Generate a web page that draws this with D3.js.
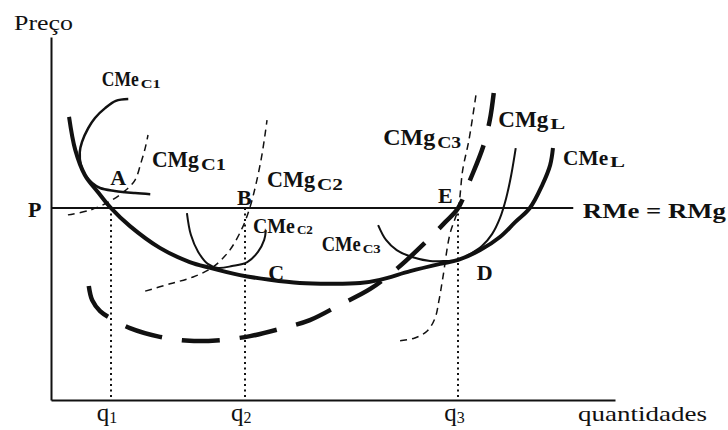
<!DOCTYPE html>
<html>
<head>
<meta charset="utf-8">
<script src="https://cdn.jsdelivr.net/npm/d3@7"></script>
<style>
  body { margin: 0; background: #fff; }
  svg { display: block; }
  text { font-family: "Liberation Serif", "Times New Roman", serif; fill: #111; }
</style>
</head>
<body>
<svg id="chart" width="728" height="430"></svg>
<script>
// Market price (RMe = RMg) and the three plant outputs
const priceP = 52.9;
const qValues = [10.6, 34.4, 72.2];
const qSubs = ["1", "2", "3"];

// Long-run average cost (envelope)
const cmeLong = [[3.2,78.0],[4.3,68.9],[6.0,62.0],[8.3,57.3],[10.6,52.9],[14.0,47.9],[19.3,41.9],
  [24.6,38.0],[28.2,36.4],[33.5,34.4],[38.8,33.1],[44.1,32.2],[49.5,32.0],[54.8,32.2],[58.3,33.1],
  [63.7,35.5],[69.0,37.5],[72.2,38.6],[76.1,41.3],[79.6,44.9],[82.3,49.0],[84.9,52.9],[87.1,59.2],
  [88.5,64.7],[89.0,69.4]];

// Long-run marginal cost
const cmgLong = [[6.7,31.4],[7.3,27.5],[8.7,24.5],[10.5,22.6],[14.0,19.8],[19.3,17.4],[24.6,16.3],
  [30.0,16.5],[35.3,17.6],[40.6,19.6],[45.9,22.0],[51.2,26.2],[56.6,30.6],[61.5,36.4],[66.3,43.3],
  [69.9,49.0],[72.2,52.9],[74.3,60.6],[76.6,69.7],[77.8,77.1],[78.5,84.6]];

// Short-run average costs for plants 1, 2, 3
const cmeShort1 = [[13.7,82.9],[11.5,82.4],[9.6,80.4],[7.8,77.7],[6.6,74.9],[5.5,71.1],[5.1,68.3],
  [5.3,64.7],[6.0,62.0],[7.3,59.8],[8.7,58.4],[11.3,57.6],[14.9,57.0],[17.6,56.7]];
const cmeShort2 = [[24.1,51.5],[24.8,45.5],[26.1,40.8],[27.8,37.5],[29.6,36.4],[32.1,36.9],
  [34.8,38.0],[36.7,40.8],[37.8,44.1],[38.1,46.8]];
const cmeShort3 = [[58.0,48.2],[59.4,44.1],[61.3,41.3],[64.0,39.4],[67.2,38.3],[69.9,38.3],
  [72.2,38.6],[74.3,40.2],[76.4,42.4],[78.2,45.7],[79.6,50.1],[80.7,55.6],[81.6,62.0],[82.4,69.4]];

// Short-run marginal costs for plants 1, 2, 3
const cmgShort1 = [[3.0,51.0],[6.9,52.3],[10.5,54.8],[13.1,57.6],[14.9,60.6],[16.0,65.6],
  [16.7,69.4],[17.2,73.0]];
const cmgShort2 = [[16.7,30.0],[21.1,32.0],[25.2,33.9],[28.7,36.6],[31.7,41.3],[34.0,47.7],
  [35.3,53.2],[36.3,59.2],[37.4,67.5],[38.3,77.1]];
const cmgShort3 = [[61.9,16.3],[64.5,17.1],[66.7,19.0],[68.1,22.6],[68.8,27.5],[69.5,33.9],
  [70.7,45.5],[72.2,52.9],[73.0,63.4],[74.1,71.6],[75.4,84.6]];

const svg = d3.select("#chart");
const x = d3.scaleLinear().domain([0, 100]).range([51, 615]);
const y = d3.scaleLinear().domain([0, 100]).range([400, 37]);

const line = d3.line()
  .x(d => x(d[0]))
  .y(d => y(d[1]))
  .curve(d3.curveCatmullRom.alpha(0.5));

// Axes (no ticks, just the two lines)
const xAxis = svg.append("g").attr("transform", `translate(0,${y(0)})`)
  .call(d3.axisBottom(x).tickValues([]).tickSizeOuter(0));
const yAxis = svg.append("g").attr("transform", `translate(${x(0)},0)`)
  .call(d3.axisLeft(y).tickValues([]).tickSizeOuter(0));
[xAxis, yAxis].forEach(a => a.select(".domain").attr("stroke", "#111").attr("stroke-width", 2));

// Dotted guides from the price line down to each output
svg.selectAll("line.guide").data(qValues).join("line")
  .attr("class", "guide")
  .attr("x1", d => Math.round(x(d))).attr("x2", d => Math.round(x(d)))
  .attr("y1", y(priceP)).attr("y2", y(0))
  .attr("stroke", "#111").attr("stroke-width", 2)
  .attr("stroke-dasharray", "2,3.5");

// Price line
svg.append("line")
  .attr("x1", x(0)).attr("x2", x(92.6))
  .attr("y1", y(priceP)).attr("y2", y(priceP))
  .attr("stroke", "#111").attr("stroke-width", 2);

// Short-run marginal costs (thin dashed)
[cmgShort1, cmgShort2, cmgShort3].forEach(s => {
  svg.append("path").attr("d", line(s))
    .attr("fill", "none").attr("stroke", "#111").attr("stroke-width", 1.5)
    .attr("stroke-dasharray", "7,5");
});

// Short-run average costs (thin solid)
[cmeShort1, cmeShort2, cmeShort3].forEach((s, i) => {
  svg.append("path").attr("d", line(s))
    .attr("fill", "none").attr("stroke", "#111").attr("stroke-width", i === 0 ? 2.5 : 2);
});

// Long-run marginal cost (thick long dashes)
svg.append("path").attr("d", line(cmgLong))
  .attr("fill", "none").attr("stroke", "#111").attr("stroke-width", 4.5)
  .attr("stroke-dasharray", "38,20");

// Long-run average cost (thick solid)
svg.append("path").attr("d", line(cmeLong))
  .attr("fill", "none").attr("stroke", "#111").attr("stroke-width", 4);

// Text placed at (px, py) and squeezed horizontally to a target width
function fitText(px, py, str, size, width, bold) {
  const t = svg.append("text")
    .attr("font-size", size)
    .attr("font-weight", bold ? "bold" : "normal")
    .text(str);
  const natural = t.node().getComputedTextLength();
  const sx = natural > 0 ? width / natural : 1;
  t.attr("transform", `translate(${px},${py}) scale(${sx},1)`);
  return t;
}

// Curve name with a subscript
function curveName(xv, yv, main, sub, o) {
  const px = x(xv), py = y(yv);
  fitText(px, py, main, o.size, o.w, true);
  fitText(px + o.w + 2, py + o.dy, sub, o.subSize, o.sw, true);
}

curveName(9.0, 86.5, "CMe", "C1", {size: 20, w: 37, subSize: 12, sw: 20, dy: 2});
curveName(17.9, 64.2, "CMg", "C1", {size: 24, w: 47, subSize: 16, sw: 25, dy: 3});
curveName(38.3, 58.7, "CMg", "C2", {size: 24, w: 48, subSize: 16, sw: 26, dy: 3});
curveName(58.9, 70.2, "CMg", "C3", {size: 24, w: 52, subSize: 16, sw: 24, dy: 3});
curveName(79.3, 75.2, "CMg", "L", {size: 24, w: 50, subSize: 15, sw: 15, dy: 2});
curveName(35.8, 46.0, "CMe", "C2", {size: 21, w: 42, subSize: 12, sw: 16, dy: 1});
curveName(48.0, 41.0, "CMe", "C3", {size: 21, w: 39, subSize: 12, sw: 18, dy: 2});
curveName(90.8, 64.7, "CMe", "L", {size: 22, w: 45, subSize: 14, sw: 15, dy: 2});

// Point labels
const pointText = (xv, yv, t) => svg.append("text")
  .attr("x", x(xv)).attr("y", y(yv))
  .attr("font-size", 22).attr("font-weight", "bold").text(t);
pointText(10.5, 59.2, "A");
pointText(33.0, 53.7, "B");
pointText(38.5, 33.1, "C");
pointText(75.5, 33.1, "D");
pointText(68.6, 54.3, "E");

// Price label and revenue label
svg.append("text").attr("x", x(-4.1)).attr("y", y(50.4))
  .attr("font-size", 22).attr("font-weight", "bold").text("P");
fitText(x(94.3), y(50.1), "RMe = RMg", 22, 143, true);

// Axis titles
fitText(14, 30, "Preço", 20, 59, false);
fitText(578, 421, "quantidades", 22, 129, false);

// Output labels q1, q2, q3 under the guides
qValues.forEach((q, i) => {
  const t = svg.append("text").attr("x", x(q) - 14).attr("y", 421).attr("font-size", 25);
  t.append("tspan").text("q");
  t.append("tspan").attr("font-size", 16).attr("dy", 2).text(qSubs[i]);
});
</script>
</body>
</html>
